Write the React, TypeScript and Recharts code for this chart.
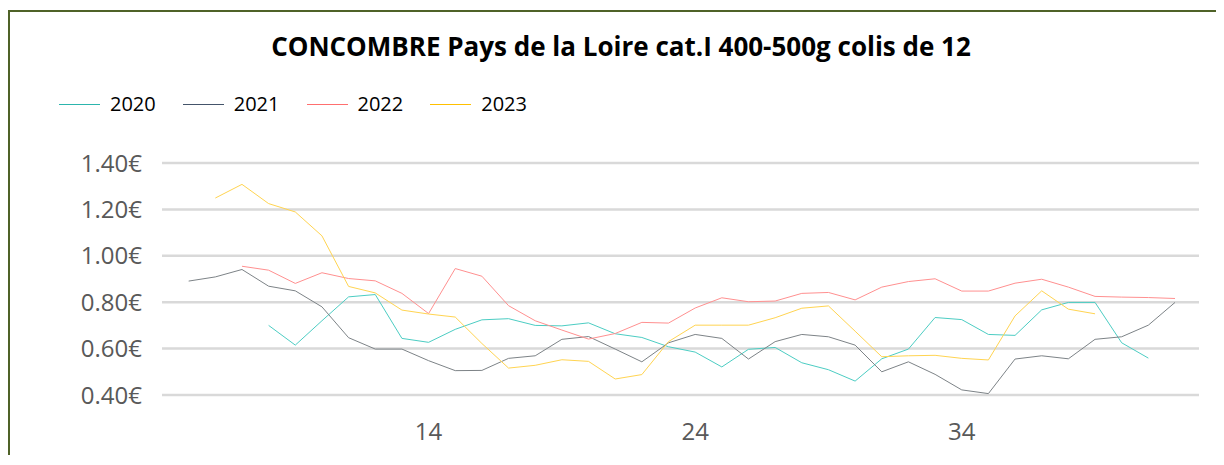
import { LineChart, Line, XAxis, YAxis, CartesianGrid } from "recharts";

// weeks 5 to 42
const weeks = [
  5, 6, 7, 8, 9, 10, 11, 12, 13, 14, 15, 16, 17, 18, 19, 20, 21, 22, 23, 24,
  25, 26, 27, 28, 29, 30, 31, 32, 33, 34, 35, 36, 37, 38, 39, 40, 41, 42,
];

const prices2020 = [
  null, null, null, 0.7, 0.615, 0.72, 0.823, 0.833, 0.644, 0.627, 0.683, 0.724,
  0.729, 0.7, 0.698, 0.711, 0.664, 0.648, 0.608, 0.585, 0.521, 0.597, 0.605,
  0.539, 0.509, 0.46, 0.556, 0.598, 0.734, 0.725, 0.661, 0.657, 0.767, 0.799,
  0.799, 0.625, 0.559, null,
];

const prices2021 = [
  0.891, 0.909, 0.941, 0.869, 0.849, 0.78, 0.647, 0.598, 0.598, 0.548, 0.505,
  0.506, 0.558, 0.569, 0.64, 0.652, 0.598, 0.543, 0.625, 0.661, 0.644, 0.555,
  0.63, 0.661, 0.651, 0.615, 0.5, 0.543, 0.489, 0.422, 0.406, 0.555, 0.569,
  0.556, 0.64, 0.651, 0.701, 0.799,
];

const prices2022 = [
  null, null, 0.955, 0.938, 0.881, 0.927, 0.902, 0.892, 0.838, 0.751, 0.945,
  0.912, 0.785, 0.72, 0.68, 0.641, 0.665, 0.713, 0.71, 0.775, 0.819, 0.802,
  0.805, 0.838, 0.842, 0.81, 0.865, 0.889, 0.901, 0.848, 0.848, 0.882, 0.899,
  0.865, 0.825, 0.822, 0.82, 0.816,
];

const prices2023 = [
  null, 1.249, 1.308, 1.225, 1.189, 1.086, 0.868, 0.84, 0.766, 0.749, 0.736,
  0.622, 0.516, 0.528, 0.552, 0.545, 0.469, 0.488, 0.63, 0.701, 0.701, 0.701,
  0.733, 0.774, 0.784, 0.675, 0.565, 0.569, 0.571, 0.558, 0.551, 0.741, 0.849,
  0.77, 0.75, null, null, null,
];

const yTicks = [0.4, 0.6, 0.8, 1.0, 1.2, 1.4];
const xTicks = [14, 24, 34];

const series = [
  { key: "y2020", name: "2020", stroke: "#4ccdc3", legend: "#2cb5ad" },
  { key: "y2021", name: "2021", stroke: "#7d8387", legend: "#44546a" },
  { key: "y2022", name: "2022", stroke: "#ff9090", legend: "#ff6f6f" },
  { key: "y2023", name: "2023", stroke: "#ffd451", legend: "#ffc000" },
];

const data = weeks.map((w, i) => ({
  week: w,
  y2020: prices2020[i],
  y2021: prices2021[i],
  y2022: prices2022[i],
  y2023: prices2023[i],
}));

const font = "'Open Sans', 'Noto Sans', sans-serif";

export default function App() {
  return (
    <div style={{ paddingTop: 2 }}>
      <style>{`body{margin:8px;overflow:hidden}`}</style>
      <div
        style={{
          position: "relative",
          width: 1216,
          height: 445,
          boxSizing: "border-box",
          borderTop: "2px solid #4f6228",
          borderLeft: "2px solid #4f6228",
          background: "#fff",
          fontFamily: font,
        }}
      >
        <div
          style={{
            position: "absolute",
            left: 0,
            width: 1222,
            top: 17,
            textAlign: "center",
            fontSize: 26,
            fontWeight: 700,
            color: "#000",
            lineHeight: "34px",
          }}
        >
          CONCOMBRE Pays de la Loire cat.I 400-500g colis de 12
        </div>
        <div
          style={{
            position: "absolute",
            left: 49,
            top: 78,
            display: "flex",
            gap: 27,
            fontSize: 20,
            color: "#000",
            lineHeight: "28px",
          }}
        >
          {series.map((s) => (
            <div key={s.key} style={{ display: "flex", alignItems: "center" }}>
              <span
                style={{
                  display: "inline-block",
                  width: 41,
                  height: 0,
                  borderTop: `1.5px solid ${s.legend}`,
                  marginRight: 10,
                }}
              />
              <span>{s.name}</span>
            </div>
          ))}
        </div>
        <LineChart
          width={1214}
          height={443}
          data={data}
          margin={{ top: 151, right: 25, bottom: 0, left: 0 }}
          style={{ position: "absolute", left: 0, top: 0 }}
        >
          <CartesianGrid
            horizontal
            vertical={false}
            stroke="#d9d9d9"
            strokeWidth={2.5}
          />
          <XAxis
            dataKey="week"
            type="number"
            domain={[4, 42.9]}
            ticks={xTicks}
            axisLine={false}
            tickLine={false}
            tickSize={0}
            tickMargin={28}
            height={60}
            tick={{ fontSize: 24, fill: "#595959", fontFamily: font }}
            allowDataOverflow
          />
          <YAxis
            domain={[0.4, 1.4]}
            ticks={yTicks}
            axisLine={false}
            tickLine={false}
            tickSize={0}
            tickMargin={20}
            width={152}
            tick={{ fontSize: 24, fill: "#595959", fontFamily: font }}
            tickFormatter={(v: number) => `${v.toFixed(2)}€`}
          />
          {series.map((s) => (
            <Line
              key={s.key}
              dataKey={s.key}
              name={s.name}
              stroke={s.stroke}
              strokeWidth={1}
              dot={false}
              activeDot={false}
              type="linear"
              connectNulls={false}
              isAnimationActive={false}
            />
          ))}
        </LineChart>
      </div>
    </div>
  );
}
